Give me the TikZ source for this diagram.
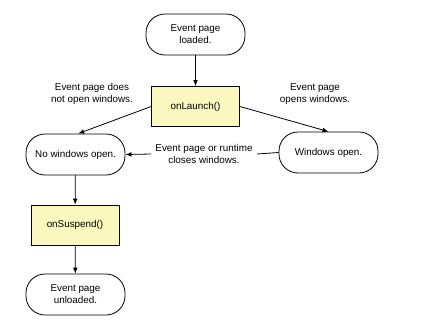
\documentclass[tikz,border=0pt]{standalone}
\usepackage{fontspec}
\setmainfont{Liberation Sans}
\usetikzlibrary{arrows.meta}

\begin{document}
\begin{tikzpicture}[x=0.75pt,y=0.75pt,yscale=-1,xscale=1,line width=0.6pt,
  every node/.style={font=\fontsize{7.4}{9}\selectfont,align=center},
  statebox/.style={draw,rounded corners=19*0.75pt,minimum width=99*0.75pt,minimum height=41*0.75pt,inner sep=0pt},
  callbox/.style={draw,fill=callfill,minimum width=88*0.75pt,minimum height=40*0.75pt,inner sep=0pt},
  flow/.style={-{Latex[length=4.5pt,width=3.5pt]}}]
\definecolor{callfill}{RGB}{250,248,190}
\useasboundingbox (0,0) rectangle (444,329);

%Shape: Rounded Rect [id:loaded] 
\node[statebox] (loaded) at (195.5,34.5) {Event page\\loaded.};
%Shape: Rectangle [id:launch] 
\node[callbox] (launch) at (195.5,106.5) {onLaunch()};
%Shape: Rounded Rect [id:nowin] 
\node[statebox] (nowin) at (75.5,154.5) {No windows open.};
%Shape: Rounded Rect [id:win] 
\node[statebox] (win) at (328.5,152.5) {Windows open.};
%Shape: Rectangle [id:suspend] 
\node[callbox] (suspend) at (75,225) {onSuspend()};
%Shape: Rounded Rect [id:unloaded] 
\node[statebox] (unloaded) at (75.5,294.5) {Event page\\unloaded.};

%Text Nodes
\node (nolabel) at (92,94) {Event page does\\not open windows.};
\node (yeslabel) at (315,94) {Event page\\opens windows.};
\node[fill=white,inner xsep=3pt] (closelabel) at (204,154) {Event page or runtime\\closes windows.};

%Straight Lines
\draw[flow] (loaded) -- (launch);
\draw[flow] (launch.west) -- ([xshift=2pt]nowin.north);
\draw[flow] (launch.east) -- (win.north);
\draw (win.west) -- (closelabel.east);
\draw[flow] (closelabel.west) -- (nowin.east);
\draw[flow] (nowin) -- (suspend);
\draw[flow] (suspend) -- (unloaded);

\end{tikzpicture}
\end{document}
